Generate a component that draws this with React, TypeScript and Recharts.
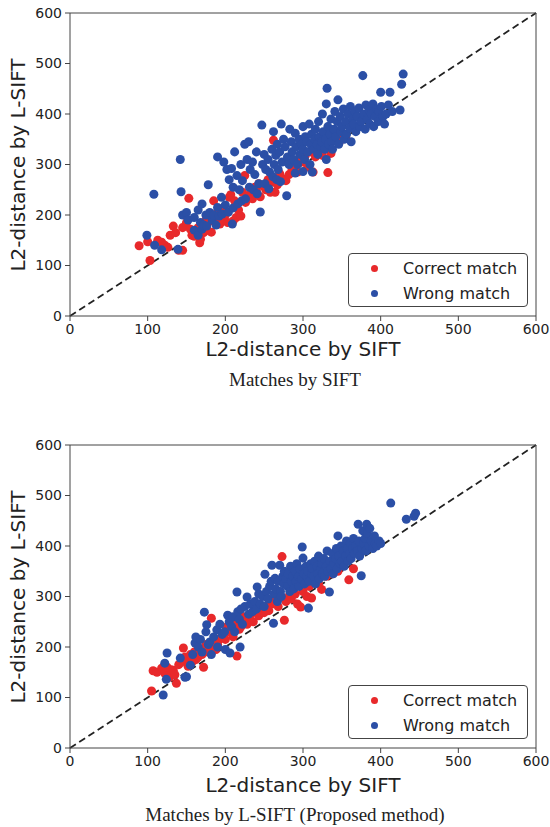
import { ScatterChart, Scatter, XAxis, YAxis, ZAxis, ReferenceLine } from 'recharts';

const TICKS = [0, 100, 200, 300, 400, 500, 600];
const RED = '#e8292b';
const BLUE = '#2b4fa6';
const FONT = '"DejaVu Sans", sans-serif';

// points, [L2 by SIFT, L2 by L-SIFT]
const siftCorrect: [number, number][] = [
  [89, 139], [100, 147], [103, 110], [113, 150], [118, 146], [122, 140], [126, 136], [129, 160],
  [133, 178], [136, 165], [140, 130], [145, 130], [145, 175], [150, 185], [153, 233], [155, 172],
  [157, 160], [160, 158], [163, 168], [165, 175], [167, 145], [168, 152], [170, 182], [172, 165],
  [175, 190], [177, 170], [178, 200], [180, 188], [182, 166], [185, 228], [187, 195], [190, 205],
  [193, 182], [195, 190], [198, 215], [200, 200], [203, 185], [205, 235], [207, 240], [210, 188],
  [212, 228], [214, 195], [217, 210], [220, 198], [222, 245], [225, 278], [226, 225], [228, 238],
  [232, 240], [235, 232], [238, 255], [240, 248], [243, 262], [245, 236], [248, 258], [252, 250],
  [255, 270], [258, 245], [260, 265], [262, 348], [264, 245], [267, 260], [270, 282], [274, 272],
  [278, 268], [282, 280], [286, 290], [290, 300], [293, 285], [296, 310], [300, 305], [303, 318],
  [306, 295], [310, 325], [313, 285], [316, 315], [320, 330], [325, 318], [332, 284], [336, 322],
  [343, 365], [350, 350], [355, 355], [362, 378],
];

const siftWrong: [number, number][] = [
  [99, 160], [108, 241], [109, 140], [118, 131], [139, 132], [142, 310], [143, 246], [145, 200],
  [150, 205], [152, 190], [160, 195], [160, 170], [165, 210], [165, 160], [168, 185], [170, 222],
  [170, 172], [172, 180], [175, 200], [176, 178], [178, 260], [180, 205], [183, 190], [185, 200],
  [188, 180], [190, 315], [190, 215], [192, 198], [195, 235], [196, 202], [198, 305], [200, 220],
  [202, 290], [204, 206], [205, 270], [208, 292], [209, 182], [210, 255], [210, 214], [212, 325],
  [215, 278], [216, 222], [218, 250], [220, 300], [221, 228], [222, 268], [225, 340], [226, 232],
  [228, 310], [230, 345], [231, 255], [232, 290], [235, 305], [236, 250], [238, 280], [240, 325],
  [241, 242], [243, 262], [245, 206], [247, 378], [248, 300], [250, 320], [251, 262], [252, 290],
  [255, 310], [256, 252], [257, 285], [260, 330], [261, 276], [262, 365], [263, 300], [265, 318],
  [266, 270], [267, 340], [268, 290], [270, 325], [271, 266], [272, 380], [273, 305], [275, 350],
  [277, 335], [279, 238], [280, 315], [282, 300], [283, 370], [285, 345], [286, 325], [288, 310],
  [290, 362], [290, 283], [291, 335], [293, 300], [295, 350], [296, 320], [298, 340], [300, 375],
  [300, 330], [300, 286], [302, 310], [303, 355], [305, 345], [306, 325], [308, 380], [309, 300],
  [310, 340], [311, 360], [312, 285], [314, 330], [315, 350], [316, 370], [318, 340], [319, 320],
  [320, 385], [321, 355], [323, 335], [324, 345], [325, 400], [326, 365], [328, 330], [329, 350],
  [330, 420], [330, 310], [331, 451], [332, 375], [333, 340], [335, 360], [336, 390], [337, 345],
  [338, 330], [340, 370], [341, 405], [342, 355], [344, 385], [345, 428], [346, 340], [348, 395],
  [349, 365], [350, 375], [352, 410], [353, 350], [355, 385], [356, 360], [358, 400], [360, 372],
  [361, 415], [362, 345], [364, 390], [365, 380], [367, 405], [368, 365], [370, 395], [372, 412],
  [373, 375], [375, 385], [377, 476], [378, 400], [380, 370], [381, 418], [383, 390], [385, 408],
  [386, 380], [388, 400], [390, 420], [391, 375], [393, 395], [395, 410], [397, 385], [398, 405],
  [400, 443], [401, 415], [403, 395], [405, 380], [407, 400], [410, 418], [412, 443], [415, 405],
  [425, 408], [427, 459], [429, 479],
];

const lsiftCorrect: [number, number][] = [
  [105, 113], [107, 153], [112, 150], [118, 158], [122, 148], [125, 160], [128, 140], [130, 155],
  [133, 154], [135, 145], [137, 128], [140, 165], [143, 170], [146, 198], [148, 180], [150, 175],
  [152, 162], [155, 185], [157, 170], [160, 190], [162, 175], [165, 180], [168, 195], [170, 185],
  [172, 160], [175, 205], [178, 190], [180, 200], [182, 257], [185, 210], [188, 195], [190, 205],
  [192, 215], [195, 220], [198, 225], [200, 215], [202, 240], [205, 230], [207, 250], [210, 220],
  [213, 245], [215, 182], [218, 235], [220, 240], [223, 260], [225, 250], [228, 245], [230, 255],
  [233, 265], [236, 250], [240, 270], [243, 262], [246, 275], [250, 268], [253, 280], [256, 272],
  [260, 285], [264, 290], [268, 280], [273, 379], [276, 253], [278, 290], [282, 300], [285, 295],
  [290, 305], [293, 285], [297, 279], [300, 310], [305, 300], [308, 320], [311, 297], [315, 335],
  [320, 325], [324, 314], [330, 340], [338, 345], [345, 350], [359, 333], [365, 355],
];

const lsiftWrong: [number, number][] = [
  [120, 105], [122, 168], [124, 136], [125, 188], [142, 178], [148, 140], [150, 141], [155, 164],
  [158, 185], [161, 208], [162, 220], [165, 200], [168, 215], [170, 190], [173, 269], [175, 230],
  [176, 244], [178, 205], [180, 210], [182, 185], [185, 220], [189, 234], [190, 200], [193, 245],
  [196, 225], [199, 230], [200, 195], [203, 263], [205, 250], [206, 188], [208, 240], [210, 260],
  [212, 230], [215, 309], [216, 270], [218, 255], [219, 200], [220, 275], [222, 245], [225, 280],
  [228, 299], [230, 265], [232, 285], [235, 270], [238, 290], [240, 275], [241, 319], [243, 305],
  [245, 285], [248, 300], [250, 280], [251, 344], [253, 310], [255, 295], [257, 320], [259, 330],
  [260, 362], [262, 247], [263, 305], [264, 336], [265, 315], [267, 290], [268, 330], [270, 362],
  [271, 310], [272, 300], [274, 340], [275, 325], [276, 350], [278, 335], [280, 320], [281, 345],
  [283, 310], [284, 360], [285, 330], [287, 340], [288, 315], [290, 350], [291, 330], [292, 365],
  [294, 340], [295, 320], [296, 355], [298, 335], [299, 398], [300, 376], [301, 345], [302, 325],
  [304, 360], [305, 340], [306, 350], [307, 277], [308, 330], [310, 365], [311, 345], [312, 355],
  [314, 340], [315, 370], [316, 325], [318, 360], [319, 345], [320, 380], [321, 335], [323, 355],
  [324, 365], [325, 345], [327, 375], [328, 340], [330, 360], [331, 390], [332, 350], [334, 309],
  [335, 370], [336, 355], [338, 385], [339, 345], [340, 365], [342, 375], [343, 395], [344, 355],
  [345, 420], [346, 380], [348, 365], [349, 400], [350, 370], [352, 390], [353, 360], [355, 380],
  [356, 410], [357, 395], [358, 370], [360, 385], [361, 405], [362, 375], [364, 395], [365, 415],
  [366, 385], [368, 400], [370, 390], [371, 443], [372, 410], [373, 380], [375, 341], [376, 395],
  [377, 430], [378, 405], [380, 415], [381, 390], [382, 443], [383, 425], [385, 400], [386, 435],
  [388, 410], [390, 395], [392, 420], [393, 405], [395, 400], [398, 410], [400, 405], [413, 485],
  [433, 453], [443, 459], [445, 465],
];

const SERIES_NAMES = ['Correct match', 'Wrong match'];

const toPoints = (pts: [number, number][]) => pts.map(([x, y]) => ({ x, y }));

const tickStyle = { fill: '#222', fontSize: 14, fontFamily: FONT };

const LegendBox = () => (
  <div
    style={{
      position: 'absolute', left: 348, top: 253, width: 180, height: 54, boxSizing: 'border-box',
      border: '1px solid #444', borderRadius: 4, background: '#fff', fontFamily: FONT, fontSize: 16, color: '#222',
    }}
  >
    {SERIES_NAMES.map((name, i) => (
      <div key={name} style={{ position: 'absolute', left: 0, top: 3 + i * 25, height: 22, display: 'flex', alignItems: 'center' }}>
        <span style={{ position: 'absolute', left: 22, width: 7, height: 7, borderRadius: '50%', background: i === 0 ? RED : BLUE }} />
        <span style={{ position: 'absolute', left: 54, whiteSpace: 'nowrap' }}>{name}</span>
      </div>
    ))}
  </div>
);

const Panel = ({ top, correct, wrong, caption, xLabelTop, captionTop }: any) => (
  <div style={{ position: 'absolute', left: 0, top, width: 550, height: 400 }}>
    <ScatterChart width={550} height={400} margin={{ top: 13, right: 14, bottom: 34, left: 0 }}>
      <XAxis type="number" dataKey="x" domain={[0, 600]} ticks={TICKS} height={50} tickSize={5} tickMargin={3}
        stroke="#444" tick={tickStyle} />
      <YAxis type="number" dataKey="y" domain={[0, 600]} ticks={TICKS} width={70} tickSize={5} tickMargin={3}
        stroke="#444" tick={tickStyle} />
      <ZAxis range={[62, 62]} />
      <Scatter data={toPoints(correct)} fill={RED} isAnimationActive={false} />
      <Scatter data={toPoints(wrong)} fill={BLUE} isAnimationActive={false} />
      <ReferenceLine segment={[{ x: 0, y: 0 }, { x: 600, y: 600 }]} stroke="#222" strokeWidth={1.8} strokeDasharray="7 4" />
      <ReferenceLine y={600} stroke="#444" />
      <ReferenceLine x={600} stroke="#444" />
    </ScatterChart>
    <LegendBox />
    <div style={{ position: 'absolute', left: 70, width: 466, top: xLabelTop, lineHeight: '24px', textAlign: 'center', fontFamily: FONT, fontSize: 20, color: '#222' }}>
      L2-distance by SIFT
    </div>
    <div style={{ position: 'absolute', left: 17 - 151.5, top: 164.5 - 12, width: 303, lineHeight: '24px', textAlign: 'center', transform: 'rotate(-90deg)', fontFamily: FONT, fontSize: 20, color: '#222', whiteSpace: 'nowrap' }}>
      L2-distance by L-SIFT
    </div>
    <div style={{ position: 'absolute', left: 0, width: 590, top: captionTop, lineHeight: '22px', textAlign: 'center', fontFamily: '"Liberation Serif", serif', fontSize: 19, color: '#222' }}>
      {caption}
    </div>
  </div>
);

export default function App() {
  return (
    <div style={{ position: 'absolute', left: 0, top: 0, width: 550, height: 827, background: '#fff' }}>
      <Panel top={0} correct={siftCorrect} wrong={siftWrong} caption="Matches by SIFT" xLabelTop={337} captionTop={369} />
      <Panel top={432} correct={lsiftCorrect} wrong={lsiftWrong} caption="Matches by L-SIFT (Proposed method)" xLabelTop={341} captionTop={372} />
    </div>
  );
}
